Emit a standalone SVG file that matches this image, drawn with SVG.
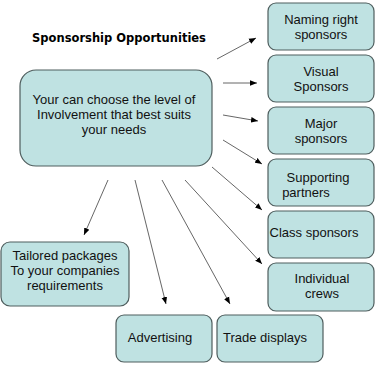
<svg xmlns="http://www.w3.org/2000/svg" width="378" height="368" viewBox="0 0 378 368">
<defs>
<style>
.box{fill:#bfe2e2;stroke:#4f5e5e;stroke-width:1.2}
.t{font-family:"Liberation Sans",Arial,sans-serif;font-size:13px;fill:#111;text-anchor:middle}
.title{font-family:"DejaVu Sans",Verdana,sans-serif;font-size:11.5px;font-weight:bold;fill:#000;text-anchor:middle}
.c{stroke:#555;stroke-width:0.9;fill:none;marker-end:url(#ah)}
</style>
<marker id="ah" viewBox="0 0 10 10" refX="10" refY="5" markerWidth="7" markerHeight="7" markerUnits="userSpaceOnUse" orient="auto">
<path d="M0,1 L10,5 L0,9 Z" fill="#000"/>
</marker>
</defs>
<rect width="378" height="368" fill="#fff"/>
<text class="title" x="119" y="42">Sponsorship Opportunities</text>
<g id="connectors">
<line class="c" x1="217" y1="59" x2="256" y2="38"/>
<line class="c" x1="223" y1="83" x2="257" y2="83"/>
<line class="c" x1="223" y1="115" x2="258" y2="121"/>
<line class="c" x1="223" y1="140" x2="262" y2="164"/>
<line class="c" x1="212" y1="167" x2="262" y2="210"/>
<line class="c" x1="185" y1="180" x2="262" y2="264"/>
<line class="c" x1="162" y1="180" x2="230" y2="304"/>
<line class="c" x1="135" y1="180" x2="166" y2="304"/>
<line class="c" x1="108" y1="180" x2="84" y2="235"/>
</g>
<g id="main">
<rect class="box" x="20" y="70" width="192" height="96" rx="16"/>
<text class="t" x="114" y="104">Your can choose the level of</text>
<text class="t" x="114" y="119">Involvement that best suits</text>
<text class="t" x="114" y="134">your needs</text>
</g>
<g id="naming">
<rect class="box" x="268" y="3" width="106" height="47" rx="8"/>
<text class="t" x="321" y="24">Naming right</text>
<text class="t" x="321" y="39">sponsors</text>
</g>
<g id="visual">
<rect class="box" x="268" y="55" width="106" height="47" rx="8"/>
<text class="t" x="321" y="76">Visual</text>
<text class="t" x="321" y="91">Sponsors</text>
</g>
<g id="major">
<rect class="box" x="268" y="107" width="106" height="47" rx="8"/>
<text class="t" x="321" y="128">Major</text>
<text class="t" x="321" y="143">sponsors</text>
</g>
<g id="supporting">
<rect class="box" x="268" y="159" width="106" height="47" rx="8"/>
<text class="t" x="318" y="182">Supporting</text>
<text class="t" x="306" y="197">partners</text>
</g>
<g id="class">
<rect class="box" x="268" y="211" width="106" height="47" rx="8"/>
<text class="t" x="314" y="237">Class sponsors</text>
</g>
<g id="individual">
<rect class="box" x="268" y="263" width="106" height="48" rx="8"/>
<text class="t" x="322" y="283">Individual</text>
<text class="t" x="322" y="298">crews</text>
</g>
<g id="tailored">
<rect class="box" x="1" y="242" width="128" height="64" rx="9"/>
<text class="t" x="65" y="260">Tailored packages</text>
<text class="t" x="65" y="275">To your companies</text>
<text class="t" x="65" y="290">requirements</text>
</g>
<g id="advertising">
<rect class="box" x="116" y="315" width="96" height="47" rx="8"/>
<text class="t" x="160" y="342">Advertising</text>
</g>
<g id="trade">
<rect class="box" x="217" y="315" width="106" height="47" rx="8"/>
<text class="t" x="265" y="342">Trade displays</text>
</g>
</svg>
